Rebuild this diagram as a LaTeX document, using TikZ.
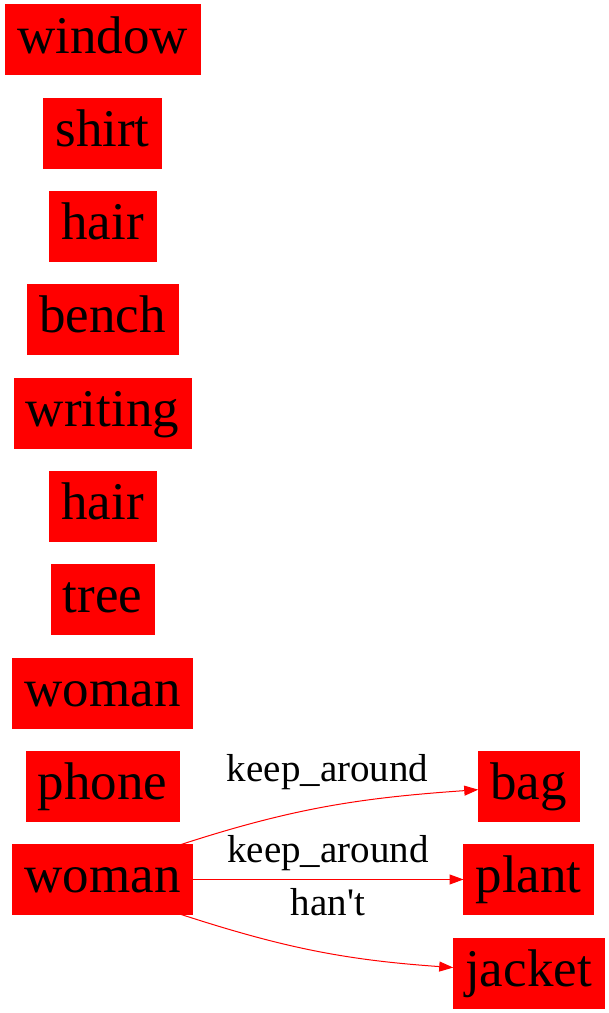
\documentclass[tikz,border=0pt]{standalone}
\usepackage{fontspec}
\setmainfont{Liberation Serif}
\usetikzlibrary{arrows.meta,positioning}
\tikzset{
  every picture/.style={line width=1pt},
  obj/.style={fill=red, draw=red, line width=0.4pt, outer sep=0pt, font=\fontsize{53}{60}\selectfont,
    inner xsep=12pt, inner ysep=0pt, minimum height=70pt, text height=40pt, text depth=13pt},
  rel/.style={draw=red, -{Triangle[length=14pt,width=10pt]}},
  lbl/.style={font=\fontsize{39}{44}\selectfont, inner sep=0pt, text height=27pt, text depth=9pt},
}
\begin{document}
\begin{tikzpicture}[x=1pt, y=1pt, node distance=23.33pt]
  \useasboundingbox (0,0) rectangle (609,-1013);
  \node[obj] (window) at (102.5,-39.5) {window};
  \node[obj, below=of window] (shirt) {shirt};
  \node[obj, below=of shirt] (hair) {hair};
  \node[obj, below=of hair] (bench) {bench};
  \node[obj, below=of bench] (writing) {writing};
  \node[obj, below=of writing] (hair2) {hair};
  \node[obj, below=of hair2] (tree) {tree};
  \node[obj, below=of tree] (woman) {woman};
  \node[obj, below=of woman] (phone) {phone};
  \node[obj, below=of phone] (woman2) {woman};
  \node[obj, xshift=426pt] (plant) at (woman2) {plant};
  \node[obj] (bag) at (plant |- phone) {bag};
  \node[obj, below=of plant] (jacket) {jacket};
  \draw[rel] (woman2.24) to[out=18, in=184] node[lbl, above=15pt, pos=0.5] {keep\_around} (bag.184);
  \draw[rel] (woman2) -- node[lbl, above=7.5pt] {keep\_around} node[lbl, below=8.5pt] {han\textquotesingle t} (plant);
  \draw[rel] (woman2.-24) to[out=-18, in=176] (jacket.176);
\end{tikzpicture}
\end{document}
